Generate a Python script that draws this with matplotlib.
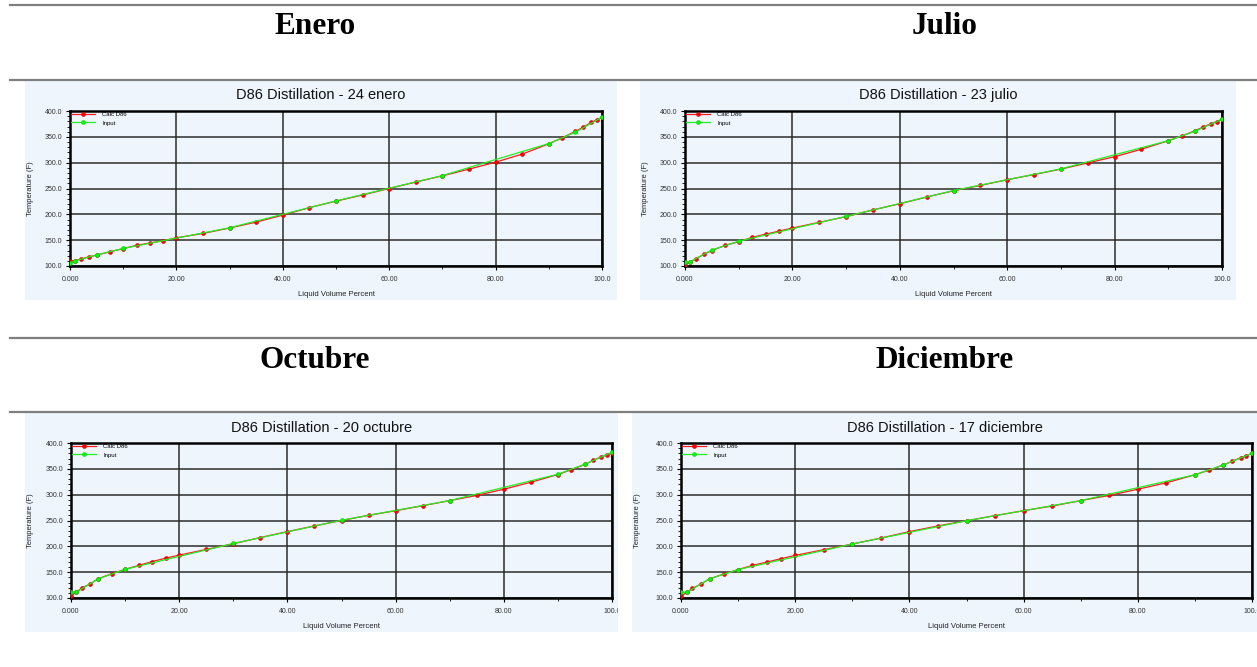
import matplotlib
matplotlib.use("Agg")
import matplotlib.pyplot as plt
from matplotlib.patches import Rectangle
from matplotlib.lines import Line2D
from matplotlib.ticker import FixedLocator, FixedFormatter, MultipleLocator
from matplotlib.transforms import Bbox, TransformedBbox

# liquid volume percent where each curve is sampled
calc_x = [0, 1, 2, 3.5, 5, 7.5, 10, 12.5, 15, 17.5, 20, 25, 30, 35, 40, 45, 50,
          55, 60, 65, 70, 75, 80, 85, 90, 92.5, 95, 96.5, 98, 99, 100]
input_x = [0, 1, 5, 10, 30, 50, 70, 90, 95, 100]

# temperatures (F)
enero_calc = [109, 110.5, 113.5, 117.5, 121, 127.5, 133.5, 140, 144.5, 149, 154.5,
              163, 173.5, 185, 198.5, 213, 225.5, 237.5, 250, 262.5, 274.5, 287.5,
              301, 316.5, 336.5, 348, 360.5, 369, 378, 383, 387.5]
enero_input = [106, 110, 121.5, 134, 174, 226, 275, 337, 359, 388]

julio_calc = [102.5, 108, 114, 122.5, 130, 140, 147, 155.5, 161.5, 167.5, 173.5,
              184.5, 195.5, 208.5, 220.5, 233.5, 245.5, 256, 267, 277, 287.5, 299.5,
              311.5, 326, 342.5, 351.5, 362, 369, 375.5, 379.5, 384]
julio_input = [107.5, 108.5, 131, 148, 196, 246, 288, 342.5, 361, 384]

octubre_calc = [104, 111.5, 119.5, 127, 137, 147, 155.5, 163, 170.5, 177, 183,
                194, 205, 217, 228.5, 239.5, 250, 260, 269, 278.5, 288.5, 298.5,
                310.5, 324, 339, 348.5, 358.5, 366.5, 373, 377, 381.5]
octubre_input = [111, 111.5, 137, 155.5, 205.5, 250.5, 288.5, 339.5, 359, 382]

diciembre_calc = [103, 111, 118.5, 127, 137, 146.5, 155, 163, 169.5, 176, 182.5,
                  193.5, 204.5, 216, 228.5, 239.5, 249.5, 259.5, 269, 278, 288.5,
                  298.5, 310.5, 323, 338.5, 347.5, 357.5, 364.5, 371.5, 375.5, 380]
diciembre_input = [111, 111, 137, 155, 204.5, 249.5, 288.5, 338.5, 357.5, 380]

months = ["Enero", "Julio", "Octubre", "Diciembre"]
titles = ["D86 Distillation - 24 enero", "D86 Distillation - 23 julio",
          "D86 Distillation - 20 octubre", "D86 Distillation - 17 diciembre"]
calc_series = [enero_calc, julio_calc, octubre_calc, diciembre_calc]
input_series = [enero_input, julio_input, octubre_input, diciembre_input]

x_ticks = [0, 20, 40, 60, 80, 100]
x_tick_labels = ["0.000", "20.00", "40.00", "60.00", "80.00", "100.0"]
y_ticks = [100, 150, 200, 250, 300, 350, 400]

W, H = 1257, 667
BG = "#eef5fd"

# layout in pixels: panel box (l, t, r, b), plot area (l, t, r, b), header centre
panels = [
    ((25, 80, 617, 300), (70, 111, 602, 266), (315, 27)),
    ((640, 80, 1236, 300), (685, 111, 1222, 266), (945, 27)),
    ((25, 413, 618, 632), (71, 443, 612, 598), (315, 360)),
    ((632, 413, 1257, 632), (681, 443, 1252, 598), (945, 360)),
]
table_rules = [5, 80, 338, 412]


def fx(px):
    return px / W


def fy(py):
    return 1 - py / H


plt.rcParams["font.family"] = ["Liberation Sans", "DejaVu Sans"]
fig = plt.figure(figsize=(W / 100, H / 100), dpi=100)

for y in table_rules:
    fig.add_artist(Line2D([fx(10), 1], [fy(y), fy(y)], transform=fig.transFigure,
                          color="#7f7f7f", lw=1.6))

for i in range(4):
    (pl, pt, pr, pb), (al, at, ar, ab), (hx, hy) = panels[i]

    fig.text(fx(hx), fy(hy), months[i], ha="center", va="center",
             family=["Liberation Serif", "DejaVu Serif"], weight="bold", fontsize=22.5)

    fig.add_artist(Rectangle((fx(pl), fy(pb)), (pr - pl) / W, (pb - pt) / H,
                             transform=fig.transFigure, facecolor=BG,
                             edgecolor="none", zorder=0))
    fig.text(fx((pl + pr) / 2), fy(pt + 15), titles[i], ha="center", va="center",
             fontsize=10.5, color="#111111")

    ax = fig.add_axes([fx(al), fy(ab), (ar - al) / W, (ab - at) / H])
    ax.set_facecolor(BG)
    ax.plot(calc_x, calc_series[i], color="#ff1a1a", lw=0.9, marker="o",
            markersize=2.8, markerfacecolor="#ff0000", markeredgecolor="#cc0000",
            markeredgewidth=0.4, label="Calc D86", zorder=3)
    ax.plot(input_x, input_series[i], color="#22ee22", lw=0.9, marker="o",
            markersize=2.8, markerfacecolor="#00ff00", markeredgecolor="#11cc11",
            markeredgewidth=0.4, label="Input", zorder=4)

    ax.set_xlim(0, 100)
    ax.set_ylim(100, 400)
    ax.xaxis.set_major_locator(FixedLocator(x_ticks))
    ax.xaxis.set_major_formatter(FixedFormatter(x_tick_labels))
    ax.xaxis.set_minor_locator(MultipleLocator(10))
    ax.yaxis.set_major_locator(FixedLocator(y_ticks))
    ax.yaxis.set_major_formatter(plt.FormatStrFormatter("%.1f"))
    ax.yaxis.set_minor_locator(MultipleLocator(10))
    ax.tick_params(which="major", direction="out", length=3, width=0.8,
                   labelsize=5, labelcolor="#333333", pad=2.5)
    ax.tick_params(axis="x", which="major", pad=4)
    ax.tick_params(which="minor", direction="out", length=2, width=0.6)
    ax.grid(True, which="major", color="#2b2b2b", lw=1.1)
    for s in ax.spines.values():
        s.set_linewidth(1.8)
        s.set_color("black")

    ax.set_xlabel("Liquid Volume Percent", fontsize=5.5, color="#222222")
    ax.xaxis.set_label_coords(0.5, -((pb - 9) - ab) / (ab - at))
    ax.set_ylabel("Temperature (F)", fontsize=5.5, color="#222222")
    ax.yaxis.set_label_coords(-(al - (pl + 9)) / (ar - al), 0.5)

    ax.legend(loc="upper left", frameon=False, fontsize=4.3, handlelength=4,
              handletextpad=1.2, labelspacing=0.5, borderaxespad=0.1,
              borderpad=0.1)

    # keep tick labels inside their panel
    clip = TransformedBbox(Bbox([[fx(pl), fy(pb)], [fx(pr), fy(pt)]]), fig.transFigure)
    for lab in ax.get_xticklabels() + ax.get_yticklabels():
        lab.set_clip_box(clip)
        lab.set_clip_on(True)

fig.savefig("out.png", dpi=100, facecolor="white")
